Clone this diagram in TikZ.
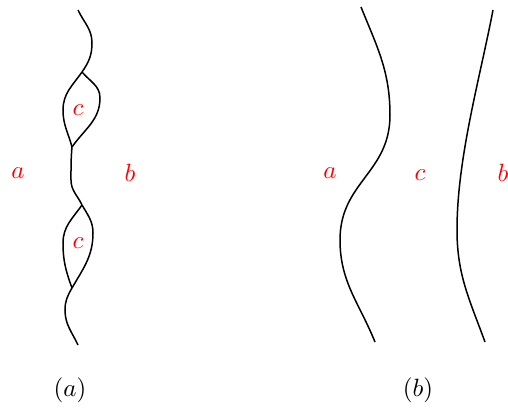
\documentclass[tikz,border=0pt]{standalone}
\begin{document}
\begin{tikzpicture}[x=0.4pt,y=0.4pt,
  strand/.style={line width=0.6pt,black},
  lab/.style={text=red,inner sep=0pt}]
\useasboundingbox (0,0) rectangle (508,408);
% (a)
\coordinate (P0) at (78,398);
\coordinate (V1) at (82,336);
\coordinate (V2) at (72,261);
\coordinate (V3) at (82,203);
\coordinate (V4) at (72,120);
\coordinate (E0) at (78,63);
\draw[strand] (P0) to[out=-65,in=90] (92,365) to[out=-90,in=55] (V1);
\draw[strand] (V1) to[out=235,in=90] (63,298) to[out=-90,in=105] (V2);
\draw[strand] (V1) to[out=-50,in=90] (100,310) to[out=-90,in=55] (V2);
\draw[strand] (V2) to[out=-95,in=90] (71,228) to[out=-90,in=115] (V3);
\draw[strand] (V3) to[out=235,in=90] (63,165) to[out=-90,in=110] (V4);
\draw[strand] (V3) to[out=-60,in=90] (93,175) to[out=-90,in=60] (V4);
\draw[strand] (V4) to[out=240,in=90] (65,98) to[out=-90,in=115] (E0);
\node[lab] (ca1) at (78,298) {$c$};
\node[lab] (ca2) at (78,165) {$c$};
\node[lab] (aa) at (18,235) {$a$};
\node[lab] (ba) at (130,235) {$b$};
\node (capa) at (70,18) {$(a)$};
% (b)
\coordinate (Q0) at (361,401);
\coordinate (Q1) at (375,66);
\coordinate (S0) at (493,398);
\coordinate (S1) at (485,66);
\draw[strand] (Q0) to[out=-68,in=90] (390,293) to[out=-90,in=90,looseness=1.1] (340,168) to[out=-90,in=112] (Q1);
\draw[strand] (S0) .. controls (480,330) and (457,250) .. (457,178) to[out=-90,in=110] (S1);
\node[lab] (ab) at (330,235) {$a$};
\node[lab] (cb) at (420,233) {$c$};
\node[lab] (bb) at (503,235) {$b$};
\node (capb) at (418,18) {$(b)$};
\end{tikzpicture}
\end{document}
